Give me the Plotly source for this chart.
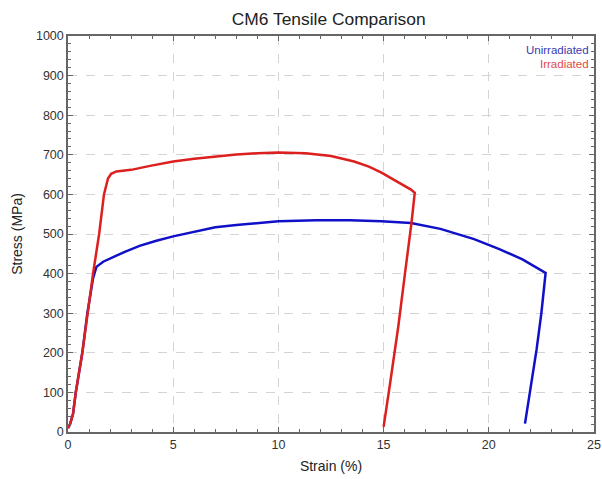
import plotly.graph_objects as go

# Unirradiated (blue) curve: strain (%) and stress (MPa)
unirr_strain = [0, 0.1, 0.24, 0.37, 0.68, 0.92, 1.19, 1.35, 1.67, 1.98, 2.7, 3.4, 4.2, 5.0, 6.0,
                7.0, 8.0, 9.0, 10.0, 11.8, 13.4, 14.9, 16.3, 17.7, 19.3, 20.5, 21.6, 22.7,
                22.5, 22.27, 21.95, 21.72]
unirr_stress = [10, 20, 46, 100, 200, 300, 388, 417, 430, 438, 455, 470, 483, 494, 506,
                517, 523, 528, 532, 535, 535, 532, 528, 513, 487, 462, 436, 402,
                301, 208, 97, 21]

# Irradiated (red) curve
irr_strain = [0, 0.1, 0.24, 0.37, 0.68, 0.92, 1.19, 1.48, 1.71, 1.9, 2.05, 2.3, 3.0, 3.9, 5.0,
              6.0, 7.0, 8.0, 9.0, 10.0, 11.3, 12.5, 13.6, 14.3, 14.9, 15.4, 15.9, 16.3, 16.48,
              16.33, 16.02, 15.7, 15.31, 15.0]
irr_stress = [10, 20, 46, 100, 200, 300, 400, 500, 600, 640, 652, 658, 662, 672, 683,
              690, 696, 701, 704, 706, 704, 697, 683, 670, 655, 640, 625, 612, 604,
              530, 402, 267, 123, 13]

series_names = ["Unirradiated", "Irradiated"]
series_colors = ["#1010c8", "#dc1f1f"]
label_colors = ["#3a3ab0", "#e04848"]
x_ticks = [0, 5, 10, 15, 20, 25]
y_ticks = [0, 100, 200, 300, 400, 500, 600, 700, 800, 900, 1000]

FONT = "Liberation Sans, Arial"

fig = go.Figure()
fig.add_trace(go.Scatter(x=unirr_strain, y=unirr_stress, mode="lines", name=series_names[0],
                         line=dict(color=series_colors[0], width=2.5), showlegend=False))
fig.add_trace(go.Scatter(x=irr_strain, y=irr_stress, mode="lines", name=series_names[1],
                         line=dict(color=series_colors[1], width=2.5), showlegend=False))

axis_common = dict(
    showline=True, linecolor="#666666", linewidth=1.5, mirror="allticks",
    ticks="inside", ticklen=5, tickcolor="#666666", tickwidth=1,
    showgrid=True, gridcolor="#d4d4d4", griddash="dash", gridwidth=1,
    zeroline=False, automargin=False,
    tickfont=dict(family=FONT, size=12.5, color="#333333"),
)

fig.update_xaxes(range=[0, 25], tickvals=x_ticks, ticktext=[str(v) for v in x_ticks],
                 minor=dict(dtick=1, tick0=0, ticks="inside", ticklen=3, tickcolor="#666666", showgrid=False),
                 title=dict(text="Strain (%)", font=dict(family=FONT, size=14, color="#222222"), standoff=10),
                 **axis_common)
fig.update_yaxes(range=[0, 1000], tickvals=y_ticks, ticktext=[str(v) for v in y_ticks],
                 minor=dict(dtick=20, tick0=0, ticks="inside", ticklen=3, tickcolor="#666666", showgrid=False),
                 title=dict(text="Stress (MPa)", font=dict(family=FONT, size=14, color="#222222"), standoff=10),
                 **axis_common)

legend_y = [0.964, 0.929]
for i, name in enumerate(series_names):
    fig.add_annotation(xref="paper", yref="paper", x=0.992, y=legend_y[i],
                       text=name, showarrow=False, xanchor="right", yanchor="middle",
                       borderpad=0,
                       font=dict(family=FONT, size=11.5, color=label_colors[i]))

fig.update_layout(
    width=602, height=479,
    margin=dict(l=68, r=8, t=36, b=47),
    paper_bgcolor="white", plot_bgcolor="white",
    title=dict(text="CM6 Tensile Comparison", x=0.546, xanchor="center", y=0.961, yanchor="middle",
               font=dict(family=FONT, size=17.4, color="#222222")),
)

fig.write_html("out.html", config={"displayModeBar": False},
               post_script="document.body.style.margin='0px';document.body.style.overflow='hidden';")
